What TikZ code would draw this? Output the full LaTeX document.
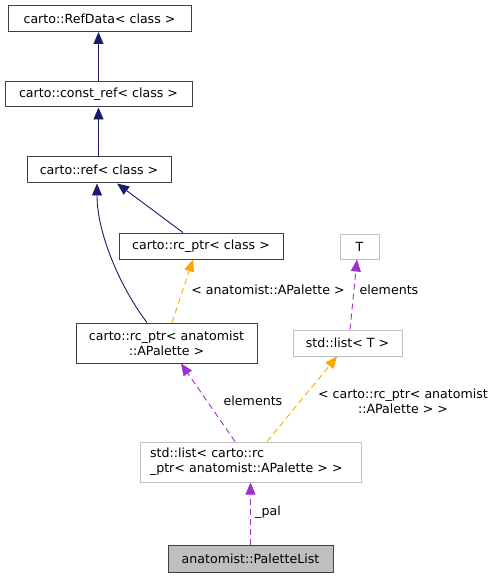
\documentclass[tikz,border=0pt]{standalone}
\usepackage{fontspec}
\setmainfont{DejaVu Sans}
\usetikzlibrary{arrows.meta,calc}
\definecolor{navyc}{HTML}{191970}
\definecolor{orangec}{HTML}{FFA500}
\definecolor{purplec}{HTML}{9A32CD}
\definecolor{grayb}{HTML}{BFBFBF}
\definecolor{darkb}{HTML}{404040}
\tikzset{
  cls/.style={draw=darkb, line width=1pt, fill=white, inner sep=0pt, font=\fontsize{12.6}{15}\selectfont, align=center},
  ext/.style={draw=grayb, line width=1pt, fill=white, inner sep=0pt, font=\fontsize{12.6}{15}\selectfont, align=center},
  lbl/.style={inner sep=0pt, font=\fontsize{12.6}{15}\selectfont, align=center},
  inh/.style={draw=navyc, line width=0.9pt, -{Triangle[length=12pt,width=10pt]}},
  tmpl/.style={draw=orangec, line width=0.9pt, dash pattern=on 6pt off 4pt, -{Triangle[length=12pt,width=10pt]}},
  use/.style={draw=purplec, line width=0.9pt, dash pattern=on 6pt off 4pt, -{Triangle[length=12pt,width=10pt]}},
}
\begin{document}
\begin{tikzpicture}[x=1pt,y=-1pt]
\useasboundingbox (0,0) rectangle (496,577);
\node[cls, minimum width=183pt, minimum height=26pt] (refdata) at (99.5,18.5) {carto::RefData< class >};
\node[cls, minimum width=187pt, minimum height=25pt] (constref) at (98.5,94.5) {carto::const\_ref< class >};
\node[cls, minimum width=144pt, minimum height=26pt] (ref) at (99,170) {carto::ref< class >};
\node[cls, minimum width=164pt, minimum height=26pt] (rcclass) at (201,246) {carto::rc\_ptr< class >};
\node[ext, minimum width=39pt, minimum height=25pt] (T) at (359.5,246.5) {T};
\node[cls, minimum width=181pt, minimum height=40pt] (apal) at (166.5,343) {carto::rc\_ptr< anatomist\\::APalette >};
\node[ext, minimum width=109pt, minimum height=26pt] (listT) at (347.5,343) {std::list< T >};
\node[ext, minimum width=221pt, minimum height=40pt, align=left, text width=201pt] (listA) at (250.5,462) {std::list< carto::rc\\\_ptr< anatomist::APalette > >};
\node[cls, fill=grayb, minimum width=165pt, minimum height=27pt] (pal) at (250.5,558.5) {anatomist::PaletteList};

\draw[inh] (constref.north) -- (refdata.south -| constref.north);
\draw[inh] (ref.north -| constref.north) -- (constref.south);
\draw[inh] (rcclass) -- (ref);
\draw[inh] ([xshift=-19.5pt]apal.north) .. controls (122,290) and (97,235) .. ([xshift=-2pt]ref.south);
\draw[tmpl] ([xshift=5.5pt]apal.north) -- ([xshift=-8pt]rcclass.south);
\draw[use] ([xshift=2.5pt]listT.north) -- ([xshift=-2.5pt]T.south);
\draw[use] ([xshift=-15.5pt]listA.north) -- ([xshift=14.5pt]apal.south);
\draw[tmpl] ([xshift=16.5pt]listA.north) -- ([xshift=-10.5pt]listT.south);
\draw[use] (pal.north) -- (listA.south);

\node[lbl] (l1) at (268,290) {< anatomist::APalette >};
\node[lbl] (l2) at (389,290) {elements};
\node[lbl] (l3) at (253,401) {elements};
\node[lbl] (l4) at (403,401) {< carto::rc\_ptr< anatomist\\::APalette > >};
\node[lbl] (l5) at (268,512) {\_pal};
\end{tikzpicture}
\end{document}
